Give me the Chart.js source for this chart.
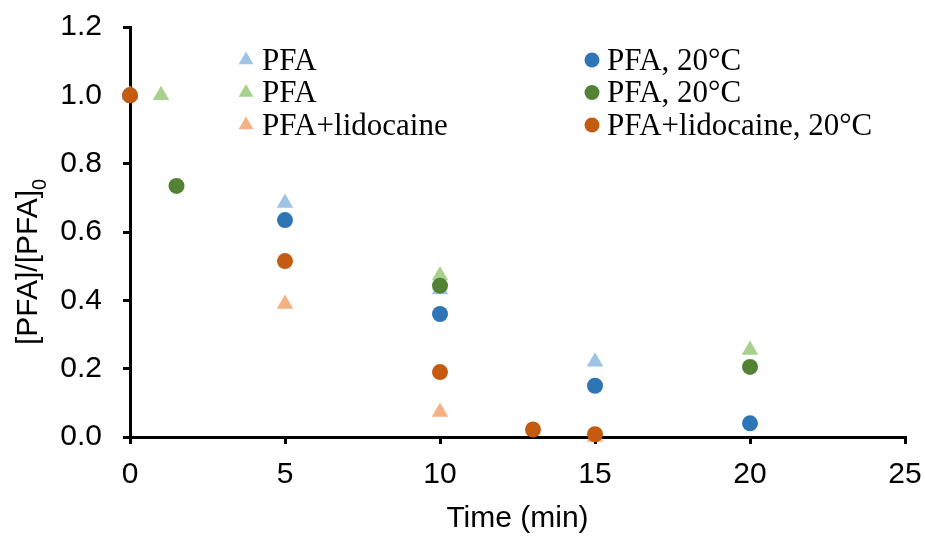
<!DOCTYPE html>
<html><head><meta charset="utf-8">
<script src="https://cdn.jsdelivr.net/npm/chart.js@4/dist/chart.umd.min.js"></script>
<style>html,body{margin:0;padding:0;background:#fff}#wrap{width:925px;height:536px}</style>
</head><body><div id="wrap"><canvas id="c" width="925" height="536"></canvas></div>
<script>
// ---- data ----
const seriesLabels = ['PFA', 'PFA, 20°C', 'PFA', 'PFA, 20°C', 'PFA+lidocaine', 'PFA+lidocaine, 20°C'];
const timeBlueTri = [0, 5, 10, 15];
const valBlueTri = [1.0, 0.685, 0.432, 0.22];
const timeBlueCirc = [0, 5, 10, 15, 20];
const valBlueCirc = [1.0, 0.635, 0.36, 0.15, 0.04];
const timeGreenTri = [1, 10, 20];
const valGreenTri = [1.0, 0.473, 0.255];
const timeGreenCirc = [1.5, 10, 20];
const valGreenCirc = [0.735, 0.443, 0.205];
const timeOrangeTri = [0, 5, 10, 15];
const valOrangeTri = [1.0, 0.389, 0.073, 0.0];
const timeOrangeCirc = [0, 5, 10, 13, 15];
const valOrangeCirc = [1.0, 0.515, 0.19, 0.022, 0.008];
const xTicksStep = 5, yTicksStep = 0.2;

function pts(xs, ys) { return xs.map((x, i) => ({x: x, y: ys[i]})); }

const colors = ['#9DC3E6', '#2E75B6', '#A9D18E', '#548235', '#F4B183', '#C55A11'];
const styles = ['triangle', 'circle', 'triangle', 'circle', 'triangle', 'circle'];
const orders = [5, 2, 4, 1, 3, 0];
const xs = [timeBlueTri, timeBlueCirc, timeGreenTri, timeGreenCirc, timeOrangeTri, timeOrangeCirc];
const ys = [valBlueTri, valBlueCirc, valGreenTri, valGreenCirc, valOrangeTri, valOrangeCirc];

const datasets = seriesLabels.map((lab, i) => ({
  label: lab,
  data: pts(xs[i], ys[i]),
  pointStyle: styles[i],
  pointRadius: styles[i] === 'triangle' ? 9.5 : 8,
  pointHoverRadius: styles[i] === 'triangle' ? 9.5 : 8,
  pointBackgroundColor: colors[i],
  pointBorderWidth: 0,
  backgroundColor: colors[i],
  borderColor: colors[i],
  showLine: false,
  clip: false,
  order: orders[i]
}));

const legendPlugin = {
  id: 'customLegend',
  afterDraw(chart) {
    const ctx = chart.ctx;
    ctx.save();
    const markX = [246, 592], textX = [262, 607];
    chart.data.datasets.forEach((ds, i) => {
      const col = i % 2, row = Math.floor(i / 2);
      const base = 69.5 + row * 32.5;
      const cy = base - 9.5, cx = markX[col];
      ctx.fillStyle = ds.pointBackgroundColor;
      ctx.beginPath();
      if (ds.pointStyle === 'circle') {
        ctx.arc(cx, cy, 7.5, 0, Math.PI * 2);
      } else {
        const r = 8.5;
        ctx.moveTo(cx, cy - r);
        ctx.lineTo(cx + r * Math.sqrt(3) / 2, cy + r / 2);
        ctx.lineTo(cx - r * Math.sqrt(3) / 2, cy + r / 2);
        ctx.closePath();
      }
      ctx.fill();
      ctx.fillStyle = '#000';
      ctx.font = '31px "Liberation Serif"';
      ctx.textAlign = 'left';
      ctx.textBaseline = 'alphabetic';
      ctx.fillText(ds.label, textX[col], base);
    });
    // y-axis title with subscript
    ctx.translate(37, 345);
    ctx.rotate(-Math.PI / 2);
    ctx.fillStyle = '#000';
    ctx.font = '30px "Liberation Sans"';
    ctx.textAlign = 'left';
    ctx.textBaseline = 'alphabetic';
    const main = '[PFA]/[PFA]';
    ctx.fillText(main, 0, 0);
    const w = ctx.measureText(main).width;
    ctx.font = '20px "Liberation Sans"';
    ctx.fillText('0', w, 9);
    ctx.restore();
  }
};

Chart.defaults.font.family = '"Liberation Sans", Arial, sans-serif';
Chart.defaults.color = '#000';

new Chart(document.getElementById('c'), {
  type: 'scatter',
  data: { datasets: datasets },
  options: {
    responsive: false,
    animation: false,
    layout: { padding: { left: 0, right: 20, top: 27, bottom: 0 } },
    plugins: { legend: { display: false }, tooltip: { enabled: false } },
    scales: {
      x: {
        type: 'linear', min: 0, max: 25,
        ticks: { stepSize: xTicksStep, font: { size: 30 }, color: '#000', padding: 13, maxRotation: 0 },
        grid: { display: true, drawOnChartArea: false, drawTicks: true, tickLength: 7, color: '#000', lineWidth: 3 },
        border: { display: true, color: '#000', width: 3 },
        title: { display: true, text: 'Time (min)', font: { size: 30 }, color: '#000', padding: { top: 0, bottom: -1 } },
        afterFit(s) { s.height = 99; s.paddingLeft = 0; s.paddingRight = 0; }
      },
      y: {
        type: 'linear', min: 0, max: 1.2,
        ticks: { stepSize: yTicksStep, font: { size: 30 }, color: '#000', padding: 21, callback: v => Number(v).toFixed(1) },
        grid: { display: true, drawOnChartArea: false, drawTicks: true, tickLength: 7, color: '#000', lineWidth: 3 },
        border: { display: true, color: '#000', width: 3 },
        afterFit(s) { s.width = 130; s.paddingTop = 0; s.paddingBottom = 0; }
      }
    }
  },
  plugins: [legendPlugin]
});
</script>
</body></html>
